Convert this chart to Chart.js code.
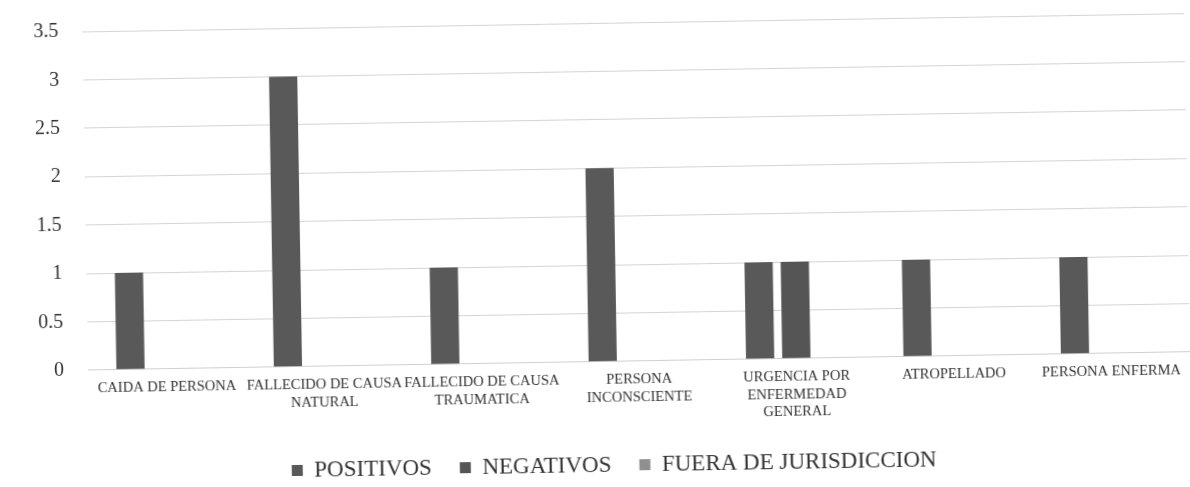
<!DOCTYPE html>
<html>
<head>
<meta charset="utf-8">
<script src="https://cdn.jsdelivr.net/npm/chart.js@4/dist/chart.umd.min.js"></script>
<style>
  html, body { margin: 0; padding: 0; background: #ffffff; }
  #wrap { width: 1190px; height: 487px; transform: rotate(-0.95deg); transform-origin: 595px 243px; }
</style>
</head>
<body>
<div id="wrap"><canvas id="c" width="1190" height="487"></canvas></div>
<script>
const categories = [
  ["CAIDA DE PERSONA"],
  ["FALLECIDO DE CAUSA", "NATURAL"],
  ["FALLECIDO DE CAUSA", "TRAUMATICA"],
  ["PERSONA", "INCONSCIENTE"],
  ["URGENCIA POR", "ENFERMEDAD", "GENERAL"],
  ["ATROPELLADO"],
  ["PERSONA ENFERMA"]
];
const positivos = [1, 3, 1, 2, 1, 1, 1];
const negativos = [0, 0, 0, 0, 1, 0, 0];
const fueraJurisdiccion = [0, 0, 0, 0, 0, 0, 0];
const seriesNames = ["POSITIVOS", "NEGATIVOS", "FUERA DE JURISDICCION"];
const yTicks = [0, 0.5, 1, 1.5, 2, 2.5, 3, 3.5];

const serif = "'Liberation Serif', 'DejaVu Serif', serif";

new Chart(document.getElementById('c'), {
  type: 'bar',
  data: {
    labels: categories,
    datasets: [
      { label: seriesNames[0], data: positivos, backgroundColor: '#595959', categoryPercentage: 0.69, barPercentage: 0.78 },
      { label: seriesNames[1], data: negativos, backgroundColor: '#555555', categoryPercentage: 0.69, barPercentage: 0.78 },
      { label: seriesNames[2], data: fueraJurisdiccion, backgroundColor: '#8f8f8f', categoryPercentage: 0.69, barPercentage: 0.78 }
    ]
  },
  options: {
    responsive: false,
    animation: false,
    layout: { padding: { left: 33, right: 2, top: 23, bottom: 0 } },
    plugins: {
      legend: {
        position: 'bottom',
        labels: {
          font: { family: serif, size: 23 },
          color: '#333333',
          boxWidth: 11,
          boxHeight: 11,
          padding: 28
        }
      },
      tooltip: { enabled: false }
    },
    scales: {
      x: {
        grid: { display: false },
        border: { color: '#cfcfcf', width: 1 },
        ticks: {
          font: { family: serif, size: 14.5 },
          color: '#333333',
          maxRotation: 0,
          autoSkip: false,
          padding: 2
        }
      },
      y: {
        min: 0,
        max: 3.5,
        afterBuildTicks: (axis) => { axis.ticks = yTicks.map(v => ({ value: v })); },
        grid: { color: '#d4d4d4', drawTicks: true, tickLength: 20, tickColor: 'rgba(0,0,0,0)' },
        border: { display: false },
        ticks: {
          font: { family: serif, size: 20 },
          color: '#333333',
          padding: 4,
          callback: (v) => String(v)
        }
      }
    }
  }
});
</script>
</body>
</html>
